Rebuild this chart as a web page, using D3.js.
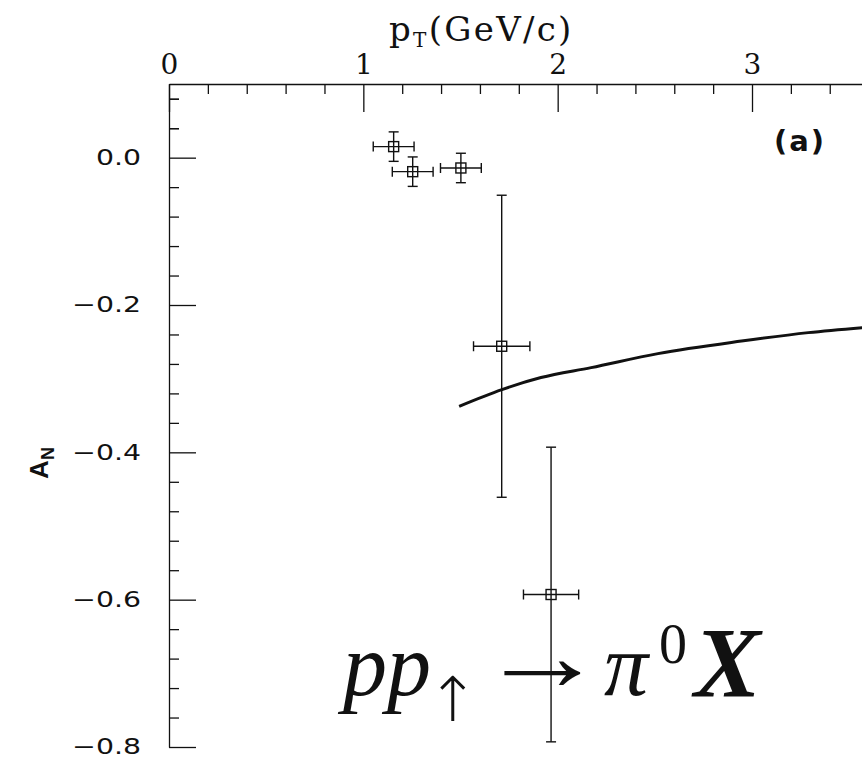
<!DOCTYPE html>
<html><head><meta charset="utf-8">
<script src="https://cdn.jsdelivr.net/npm/d3@7"></script>
<style>body{margin:0;background:#fff}svg{display:block}</style>
</head><body>
<script>
// Data
const xMajorTicks = [0, 1, 2, 3];
const yMajorTicks = [0.0, -0.2, -0.4, -0.6, -0.8];
const ptVals   = [1.156, 1.254, 1.502, 1.712, 1.966];
const anVals   = [0.015, -0.019, -0.014, -0.256, -0.593];
const ptErrs   = [0.105, 0.105, 0.105, 0.145, 0.142];
const anErrs   = [0.020, 0.020, 0.020, 0.205, 0.200];
const curvePt  = [1.493, 1.713, 1.914, 2.172, 2.516, 2.946, 3.290, 3.600];
const curveAn  = [-0.3375, -0.3148, -0.2985, -0.285, -0.266, -0.249, -0.2375, -0.2300];

const W = 862, H = 761;
const svg = d3.select("body").append("svg").attr("width", W).attr("height", H);

const x = d3.scaleLinear().domain([0, 3.566]).range([169, 862]);
const y = d3.scaleLinear().domain([-0.8, 0.1]).range([747, 84]);

const black = "#111";
const xMinor = d3.range(0, 3.57, 0.2).filter(v => Math.abs(v - Math.round(v)) > 1e-6);
const yMinor = d3.range(-0.8, 0.1, 0.04).filter(v => Math.abs(v*5 - Math.round(v*5)) > 1e-6);

const gx = svg.append("g").attr("transform", `translate(0,${y(0.1)})`)
  .call(d3.axisTop(x).tickValues(xMajorTicks).tickFormat(d3.format("d")).tickSizeInner(-28).tickSizeOuter(0).tickPadding(10));
svg.append("g").attr("transform", `translate(0,${y(0.1)})`)
  .call(d3.axisTop(x).tickValues(xMinor).tickFormat("").tickSizeInner(-10).tickSizeOuter(0))
  .select(".domain").remove();
gx.selectAll("text").attr("font-family", "'DejaVu Serif', serif").attr("font-size", 28).attr("fill", black);

const gy = svg.append("g").attr("transform", `translate(${x(0)},0)`)
  .call(d3.axisLeft(y).tickValues(yMajorTicks).tickFormat(d3.format(".1f")).tickSizeInner(-27).tickSizeOuter(0).tickPadding(28));
svg.append("g").attr("transform", `translate(${x(0)},0)`)
  .call(d3.axisLeft(y).tickValues(yMinor.concat([0.04, 0.08])).tickFormat("").tickSizeInner(-10).tickSizeOuter(0))
  .select(".domain").remove();
const sx = 1.35;
gy.selectAll("text")
  .attr("font-family", "'DejaVu Sans', sans-serif").attr("font-size", 21).attr("fill", black)
  .attr("x", -28 / sx).attr("transform", `scale(${sx},1)`);

svg.selectAll(".domain, .tick line").attr("stroke", black).attr("stroke-width", 1.3);

// x axis title
const xt = svg.append("text").attr("x", 389).attr("y", 41)
  .attr("font-family", "'DejaVu Serif', serif").attr("font-size", 34).attr("letter-spacing", 2.3).attr("fill", black);
xt.append("tspan").text("p");
xt.append("tspan").attr("font-size", 20).attr("dy", 6).text("T");
xt.append("tspan").attr("dy", -6).text("(GeV/c)");

// y axis title
const yt = svg.append("text").attr("transform", "translate(48,463) rotate(-90)")
  .attr("text-anchor", "middle").attr("font-family", "'Liberation Sans', Arial, sans-serif")
  .attr("font-weight", "bold").attr("font-size", 26).attr("fill", black);
yt.append("tspan").text("A");
yt.append("tspan").attr("font-size", 18).attr("dy", 6).text("N");

// panel label
svg.append("text").attr("x", 800).attr("y", 151).attr("text-anchor", "middle")
  .attr("font-family", "'DejaVu Sans', sans-serif").attr("font-weight", "bold")
  .attr("font-size", 29).attr("letter-spacing", 2).attr("fill", black).text("(a)");

// curve
const line = d3.line().x(d => x(d[0])).y(d => y(d[1])).curve(d3.curveMonotoneX);
svg.append("path").datum(curvePt.map((p, i) => [p, curveAn[i]]))
  .attr("d", line).attr("fill", "none").attr("stroke", black).attr("stroke-width", 3);

// data points
const pts = ptVals.map((p, i) => ({p, a: anVals[i], ep: ptErrs[i], ea: anErrs[i]}));
const g = svg.append("g").attr("stroke", black).attr("stroke-width", 1.4).attr("fill", "none");
const cap = 5;
pts.forEach(d => {
  const cx = x(d.p), cy = y(d.a);
  const x0 = x(d.p - d.ep), x1 = x(d.p + d.ep), y0 = y(d.a + d.ea), y1 = y(d.a - d.ea);
  g.append("line").attr("x1", x0).attr("x2", x1).attr("y1", cy).attr("y2", cy);
  g.append("line").attr("x1", cx).attr("x2", cx).attr("y1", y0).attr("y2", y1);
  g.append("line").attr("x1", x0).attr("x2", x0).attr("y1", cy - cap).attr("y2", cy + cap);
  g.append("line").attr("x1", x1).attr("x2", x1).attr("y1", cy - cap).attr("y2", cy + cap);
  g.append("line").attr("x1", cx - cap).attr("x2", cx + cap).attr("y1", y0).attr("y2", y0);
  g.append("line").attr("x1", cx - cap).attr("x2", cx + cap).attr("y1", y1).attr("y2", y1);
  g.append("rect").attr("x", cx - 5).attr("y", cy - 5).attr("width", 10).attr("height", 10);
});

// reaction label
const serif = "'Liberation Serif', 'Times New Roman', serif";
const rg = svg.append("g").attr("fill", black).attr("font-family", serif);
rg.append("text").attr("x", 343).attr("y", 695).attr("font-size", 88).attr("font-style", "italic").text("pp");
rg.append("text").attr("x", 453).attr("y", 721).attr("font-size", 62).attr("text-anchor", "middle")
  .attr("font-family", "'DejaVu Sans', sans-serif").attr("font-weight", 200).text("↑");
rg.append("text").attr("transform", "translate(478,690) scale(1.28,1)").attr("font-size", 100).text("→");
rg.append("text").attr("x", 604).attr("y", 695).attr("font-size", 88).attr("font-style", "italic").text("π");
rg.append("text").attr("x", 659).attr("y", 663).attr("font-size", 56).text("0");
rg.append("text").attr("x", 694).attr("y", 696).attr("font-size", 100).attr("font-style", "italic").attr("font-weight", "bold").text("X");
</script>
</body></html>
